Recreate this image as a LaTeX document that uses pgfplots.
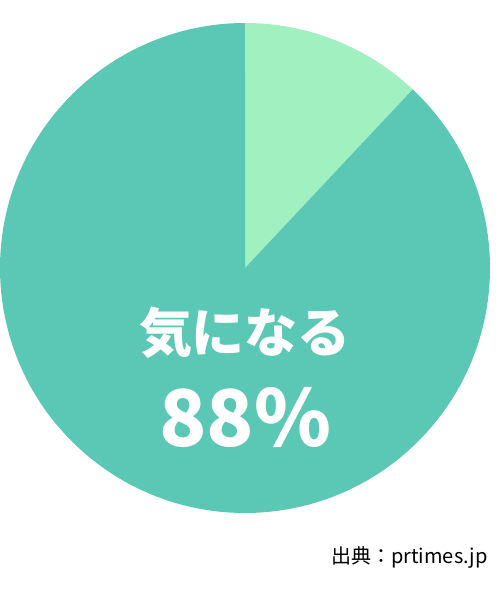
\documentclass[border=0pt]{standalone}
\usepackage{pgfplots}
\usepackage{pgfplotstable}
\pgfplotsset{compat=1.18}
\usepackage{fontspec}
\setmainfont{Liberation Sans}
\newfontfamily\cjk{Noto Sans CJK JP}

\definecolor{teal}{HTML}{5BC8B5}
\definecolor{mint}{HTML}{A0F0C0}

% share of respondents, percent
\pgfplotstableread{
label    value
other    12
yes      88
}\piedata

\begin{document}
\begin{tikzpicture}[x=1pt,y=1pt]
\pgfplotstablegetelem{0}{value}\of\piedata \let\vother\pgfplotsretval
\pgfplotstablegetelem{1}{value}\of\piedata \let\vyes\pgfplotsretval
\pgfmathsetmacro\aA{90-3.6*\vother}
\pgfmathsetmacro\aB{\aA-3.6*\vyes}
\pgfmathsetmacro\cA{cos(\aA)}
\pgfmathsetmacro\sA{sin(\aA)}
\path[use as bounding box] (0,0) rectangle (500,590);
\begin{axis}[
    at={(245pt,322pt)}, anchor=center,
    width=490pt, height=490pt, scale only axis,
    xmin=-1, xmax=1, ymin=-1, ymax=1,
    hide axis, clip=false,
]
\fill[mint] (axis cs:0,0) -- (axis cs:0,1) arc[start angle=90, end angle=\aA, radius=245pt] -- cycle;
\fill[teal] (axis cs:0,0) -- (axis cs:\cA,\sA) arc[start angle=\aA, end angle=\aB, radius=245pt] -- cycle;
\node[text=white, font=\cjk\bfseries\fontsize{53}{53}\selectfont] at (axis cs:0,-0.265) {気になる};
\node[text=white, font=\cjk\bfseries\fontsize{78}{78}\selectfont] at (axis cs:0,-0.61) {\vyes\%};
\end{axis}
\node[anchor=east, font=\cjk\fontsize{20}{20}\selectfont] at (491,33) {出典：prtimes.jp};
\end{tikzpicture}
\end{document}
